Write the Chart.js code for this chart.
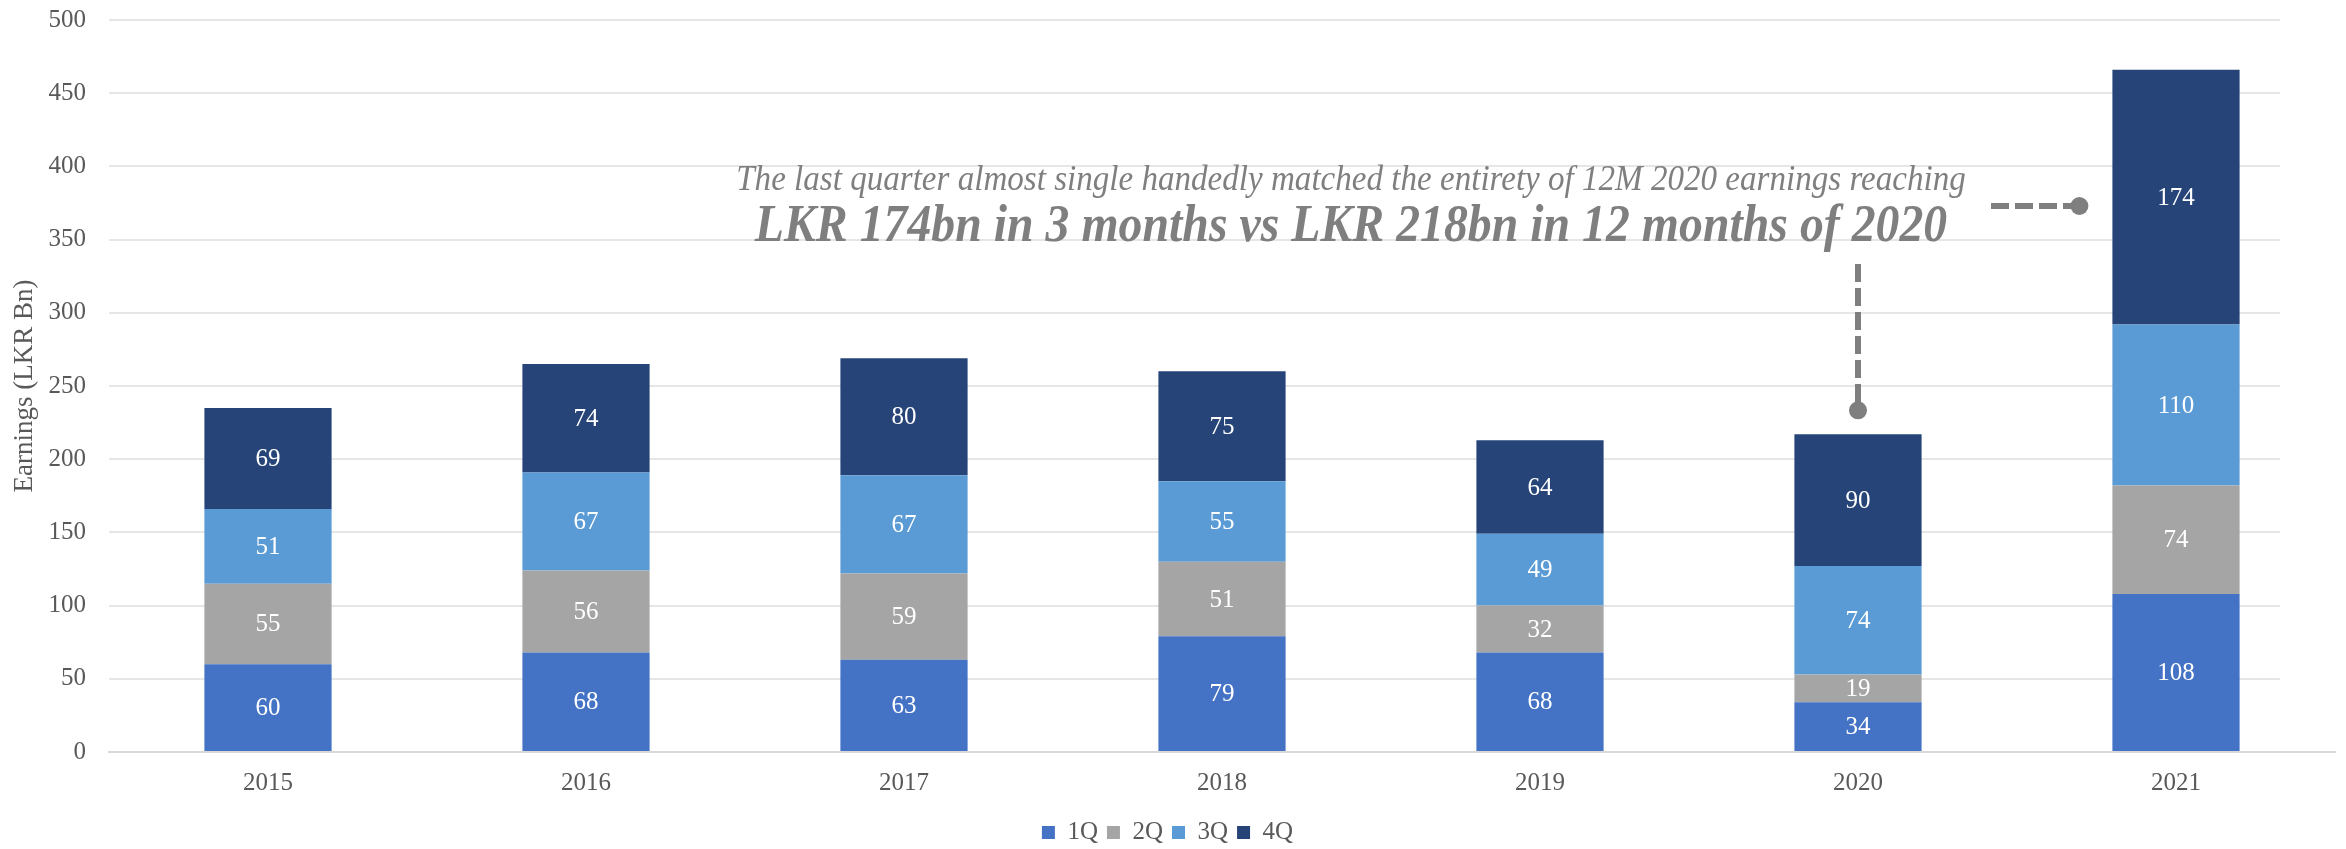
<!DOCTYPE html>
<html>
<head>
<meta charset="utf-8">
<script src="https://cdn.jsdelivr.net/npm/chart.js@4.4.1/dist/chart.umd.min.js"></script>
<style>
  html, body { margin: 0; padding: 0; background: #fff; }
  canvas { display: block; }
</style>
</head>
<body>
<canvas id="earnings" width="2346" height="849"></canvas>
<script>
// values (LKR Bn)
const years = ["2015", "2016", "2017", "2018", "2019", "2020", "2021"];
const q1 = [60, 68, 63, 79, 68, 34, 108];
const q2 = [55, 56, 59, 51, 32, 19, 74];
const q3 = [51, 67, 67, 55, 49, 74, 110];
const q4 = [69, 74, 80, 75, 64, 90, 174];
const yTicks = [0, 50, 100, 150, 200, 250, 300, 350, 400, 450, 500];

const noteLine1 = "The last quarter almost single handedly matched the entirety of 12M 2020 earnings reaching";
const noteLine2 = "LKR 174bn in 3 months vs LKR 218bn in 12 months of 2020";

const FONT = "'Liberation Serif', 'DejaVu Serif', serif";
Chart.defaults.font.family = FONT;
Chart.defaults.font.size = 25;
Chart.defaults.color = "#595959";

// white value labels in the middle of each segment
const segmentLabels = {
  id: "segmentLabels",
  afterDatasetsDraw(chart) {
    const ctx = chart.ctx;
    ctx.save();
    ctx.fillStyle = "#ffffff";
    ctx.font = "25px " + FONT;
    ctx.textAlign = "center";
    ctx.textBaseline = "middle";
    chart.data.datasets.forEach((ds, i) => {
      const meta = chart.getDatasetMeta(i);
      meta.data.forEach((bar, j) => {
        ctx.fillText(String(ds.data[j]), bar.x, (bar.y + bar.base) / 2 + 1);
      });
    });
    ctx.restore();
  }
};

// gridlines stop short of the right edge in the original
const gridTrim = {
  id: "gridTrim",
  beforeDatasetsDraw(chart) {
    const a = chart.chartArea;
    const ctx = chart.ctx;
    ctx.save();
    ctx.fillStyle = "#ffffff";
    ctx.fillRect(a.right - 55, 0, 80, a.bottom - 2);
    ctx.restore();
  }
};

function fitFont(ctx, text, style, target) {
  ctx.font = style + " 40px " + FONT;
  const w = ctx.measureText(text).width;
  return 40 * target / w;
}

function dashedPointer(ctx, x1, y1, x2, y2) {
  ctx.save();
  ctx.strokeStyle = "#7f7f7f";
  ctx.fillStyle = "#7f7f7f";
  ctx.lineWidth = 6;
  ctx.setLineDash([18, 6]);
  ctx.beginPath();
  ctx.moveTo(x1, y1);
  ctx.lineTo(x2, y2);
  ctx.stroke();
  ctx.setLineDash([]);
  ctx.beginPath();
  ctx.arc(x2, y2, 9, 0, Math.PI * 2);
  ctx.fill();
  ctx.restore();
}

const callout = {
  id: "callout",
  afterDraw(chart) {
    const ctx = chart.ctx;
    const xs = chart.scales.x;
    const ys = chart.scales.y;
    const cx = 1351;

    ctx.save();
    ctx.fillStyle = "#7f7f7f";
    ctx.textAlign = "center";
    ctx.textBaseline = "alphabetic";
    let size = fitFont(ctx, noteLine1, "italic", 1229);
    ctx.font = "italic " + size.toFixed(1) + "px " + FONT;
    ctx.save();
    ctx.translate(cx, 190);
    ctx.scale(1, 1.08);
    ctx.fillText(noteLine1, 0, 0);
    ctx.restore();
    size = fitFont(ctx, noteLine2, "italic bold", 1193);
    ctx.font = "italic bold " + size.toFixed(1) + "px " + FONT;
    ctx.translate(cx, 241);
    ctx.scale(1, 1.1);
    ctx.fillText(noteLine2, 0, 0);
    ctx.restore();

    // pointer down to the 2020 stack
    const i20 = years.indexOf("2020");
    const top20 = ys.getPixelForValue(q1[i20] + q2[i20] + q3[i20] + q4[i20]);
    const x20 = xs.getPixelForValue(i20);
    dashedPointer(ctx, x20, 264, x20, top20 - 24);

    // pointer right to the 2021 Q4 segment
    const i21 = years.indexOf("2021");
    const bar21 = chart.getDatasetMeta(3).data[i21];
    const left21 = bar21.x - bar21.width / 2;
    dashedPointer(ctx, 1991, 206, left21 - 33, 206);
  }
};

new Chart(document.getElementById("earnings"), {
  type: "bar",
  data: {
    labels: years,
    datasets: [
      { label: "1Q", data: q1, backgroundColor: "#4472C4" },
      { label: "2Q", data: q2, backgroundColor: "#A5A5A5" },
      { label: "3Q", data: q3, backgroundColor: "#5B9BD5" },
      { label: "4Q", data: q4, backgroundColor: "#264478" }
    ]
  },
  options: {
    responsive: false,
    animation: false,
    devicePixelRatio: 1,
    categoryPercentage: 1,
    barPercentage: 0.4,
    layout: { padding: { top: 20, right: 11, bottom: -6, left: 0 } },
    plugins: {
      legend: {
        position: "bottom",
        labels: {
          boxWidth: 13,
          boxHeight: 13,
          padding: 9,
          color: "#595959",
          font: { size: 25 }
        }
      },
      tooltip: { enabled: false }
    },
    scales: {
      x: {
        stacked: true,
        grid: { display: false, drawTicks: false },
        border: { color: "#d9d9d9", width: 2 },
        ticks: { padding: 16, color: "#595959", font: { size: 25 } },
        afterFit(scale) { scale.height = 59; }
      },
      y: {
        stacked: true,
        min: 0,
        max: 500,
        afterBuildTicks(scale) { scale.ticks = yTicks.map(v => ({ value: v })); },
        grid: {
          color: "#e6e6e6",
          lineWidth: 2,
          drawTicks: true,
          tickLength: 23,
          tickColor: "rgba(0,0,0,0)"
        },
        border: { display: false },
        ticks: { padding: 0, color: "#595959", font: { size: 25 } },
        title: {
          display: true,
          text: "Earnings (LKR Bn)",
          color: "#595959",
          font: { size: 27 },
          padding: { top: 9, bottom: 0 }
        },
        afterFit(scale) { scale.width = 109; }
      }
    }
  },
  plugins: [gridTrim, segmentLabels, callout]
});
</script>
</body>
</html>
